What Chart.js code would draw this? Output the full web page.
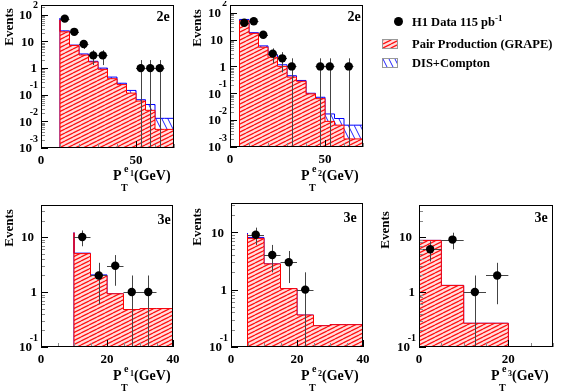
<!DOCTYPE html>
<html>
<head>
<meta charset="utf-8">
<script src="https://cdn.jsdelivr.net/npm/chart.js@4.4.1/dist/chart.umd.min.js"></script>
<style>
  body { margin:0; width:561px; height:391px; background:#fff; position:relative; overflow:hidden;
         font-family:"Liberation Serif","Times New Roman",serif; font-weight:bold; color:#000; }
  canvas.pn { position:absolute; }
  .ev { position:absolute; font-size:13px; line-height:1; white-space:nowrap; transform:translate(-50%,-50%) rotate(-90deg); }
  .tag { position:absolute; font-size:14px; line-height:1; transform:translate(-50%,-50%); }
  .xt { position:absolute; width:70px; height:26px; font-size:14px; line-height:1; }
  .xt span { position:absolute; white-space:nowrap; }
  .xt .p { left:0; top:0; }
  .xt .t { left:8px; top:14px; font-size:10px; }
  .xt .e { left:11px; top:-5px; font-size:10px; }
  .xt .n { left:17px; top:1px; font-size:8px; }
  .xt .g { left:21px; top:0; }
  .lg { position:absolute; font-size:12.5px; line-height:1; white-space:nowrap; }
  .lg sup { font-size:9px; position:relative; top:-2px; vertical-align:top; }
  .dot { position:absolute; width:9px; height:9px; border-radius:50%; background:#000; }
  canvas.sw { position:absolute; border:1px solid #999; }
</style>
</head>
<body>
<canvas id="c1" class="pn"></canvas>
<canvas id="c2" class="pn"></canvas>
<canvas id="c4" class="pn"></canvas>
<canvas id="c5" class="pn"></canvas>
<canvas id="c6" class="pn"></canvas>

<div class="ev" style="left:8px;top:27px">Events</div>
<div class="ev" style="left:196px;top:28px">Events</div>
<div class="ev" style="left:8px;top:228px">Events</div>
<div class="ev" style="left:196px;top:227px">Events</div>
<div class="ev" style="left:384px;top:230px">Events</div>

<div class="tag" style="left:163px;top:17px">2e</div>
<div class="tag" style="left:354px;top:17px">2e</div>
<div class="tag" style="left:164px;top:220px">3e</div>
<div class="tag" style="left:350px;top:218px">3e</div>
<div class="tag" style="left:541px;top:218px">3e</div>

<div class="xt" style="left:113px;top:169px"><span class="p">P</span><span class="t">T</span><span class="e">e</span><span class="n">1</span><span class="g">(GeV)</span></div>
<div class="xt" style="left:301px;top:169px"><span class="p">P</span><span class="t">T</span><span class="e">e</span><span class="n">2</span><span class="g">(GeV)</span></div>
<div class="xt" style="left:113px;top:369px"><span class="p">P</span><span class="t">T</span><span class="e">e</span><span class="n">1</span><span class="g">(GeV)</span></div>
<div class="xt" style="left:301px;top:369px"><span class="p">P</span><span class="t">T</span><span class="e">e</span><span class="n">2</span><span class="g">(GeV)</span></div>
<div class="xt" style="left:491px;top:369px"><span class="p">P</span><span class="t">T</span><span class="e">e</span><span class="n">3</span><span class="g">(GeV)</span></div>

<div class="dot" style="left:394px;top:17px"></div>
<div class="lg" style="left:412px;top:16px">H1 Data 115 pb<sup>-1</sup></div>
<canvas id="swRed" class="sw" width="14" height="8" style="left:382px;top:39px"></canvas>
<div class="lg" style="left:412px;top:38px">Pair Production (GRAPE)</div>
<canvas id="swBlue" class="sw" width="14" height="8" style="left:382px;top:58px"></canvas>
<div class="lg" style="left:412px;top:57px">DIS+Compton</div>

<script>
// bin low edges (bin width 5 GeV), GRAPE and DIS+Compton expectations, data

// 2e, P_T e1
const bins_2e_1 = [10, 15, 20, 25, 30, 35, 40, 45, 50, 55, 60, 65]
const grape_2e_1 = [65, 23, 7.1, 3.1, 1.7, 0.9, 0.4, 0.24, 0.115, 0.058, 0.026, 0.005]
const dis_2e_1 = [10, 2, 0.2, 0.3, 0.1, 0.1, 0.06, 0.03, 0.03, 0.007, 0.017, 0.008]
const dx_2e_1 = [12.5, 17.5, 22.5, 27.5, 32.5, 52.5, 57.5, 62.5]
const dn_2e_1 = [72, 23, 8, 3, 3, 1, 1, 1]
const de_2e_1 = [8.5, 4.8, 2.8, 1.7, 1.7, 1, 1, 1]

// 2e, P_T e2
const bins_2e_2 = [5, 10, 15, 20, 25, 30, 35, 40, 45, 50, 55, 60, 65]
const grape_2e_2 = [40, 50, 17, 5.2, 2.2, 1.0, 0.4, 0.28, 0.095, 0.063, 0.009, 0.0065, 0.002]
const dis_2e_2 = [6, 6, 1, 0.6, 0.5, 0.15, 0.05, 0.02, 0.005, 0.008, 0.008, 0.005, 0.0045]
const dx_2e_2 = [7.5, 12.5, 17.5, 22.5, 27.5, 32.5, 47.5, 52.5, 62.5]
const dn_2e_2 = [42, 48, 15, 3, 2, 1, 1, 1, 1]
const de_2e_2 = [6.5, 6.9, 3.9, 1.7, 1.4, 1, 1, 1, 1]

// 3e, P_T e1
const bins_3e_1 = [10, 15, 20, 25, 30, 35]
const grape_3e_1 = [12, 5.0, 2.0, 0.93, 0.48, 0.5]
const dis_3e_1 = [0.1, 0.1, 0.05, 0, 0, 0]
const dx_3e_1 = [12.5, 17.5, 22.5, 27.5, 32.5]
const dn_3e_1 = [10, 2, 3, 1, 1]
const de_3e_1 = [3.2, 1.4, 1.7, 1, 1]

// 3e, P_T e2
const bins_3e_2 = [5, 10, 15, 20, 25, 30, 35]
const grape_3e_2 = [9.1, 7.8, 2.8, 1.04, 0.36, 0.235, 0.245]
const dis_3e_2 = [0.5, 0.3, 0, 0, 0, 0, 0]
const dx_3e_2 = [7.5, 12.5, 17.5, 22.5]
const dn_3e_2 = [9, 4, 3, 1]
const de_3e_2 = [3, 2, 1.7, 1]

// 3e, P_T e3
const bins_3e_3 = [0, 5, 10, 15]
const grape_3e_3 = [11.5, 8.7, 1.32, 0.27]
const dis_3e_3 = [0.5, 0, 0, 0]
const dx_3e_3 = [2.5, 7.5, 12.5, 17.5]
const dn_3e_3 = [6, 9, 1, 2]
const de_3e_3 = [2.4, 3, 1, 1.4]

// tick labels
const xticks_top = [0, 50]
const xticks_bot = [0, 20, 40]
const xticks_e3 = [0, 20]

const BINW = 5

const panels = [
  { id: "c1", L: 41, T: 5, W: 133, H: 143, xmax: 70, ymin: 1e-3, ymax: 230, xt: xticks_top, minor: 10,
    bins: bins_2e_1, grape: grape_2e_1, dis: dis_2e_1, dx: dx_2e_1, dn: dn_2e_1, de: de_2e_1 },
  { id: "c2", L: 230, T: 5, W: 133, H: 142, xmax: 70, ymin: 1e-3, ymax: 190, xt: xticks_top, minor: 10,
    bins: bins_2e_2, grape: grape_2e_2, dis: dis_2e_2, dx: dx_2e_2, dn: dn_2e_2, de: de_2e_2 },
  { id: "c4", L: 41, T: 205, W: 132, H: 142, xmax: 40, ymin: 0.1, ymax: 38, xt: xticks_bot, minor: 5,
    bins: bins_3e_1, grape: grape_3e_1, dis: dis_3e_1, dx: dx_3e_1, dn: dn_3e_1, de: de_3e_1 },
  { id: "c5", L: 231, T: 203, W: 132, H: 144, xmax: 40, ymin: 0.1, ymax: 32, xt: xticks_bot, minor: 5,
    bins: bins_3e_2, grape: grape_3e_2, dis: dis_3e_2, dx: dx_3e_2, dn: dn_3e_2, de: de_3e_2 },
  { id: "c6", L: 419, T: 205, W: 134, H: 142, xmax: 30, ymin: 0.1, ymax: 38, xt: xticks_e3, minor: 5,
    bins: bins_3e_3, grape: grape_3e_3, dis: dis_3e_3, dx: dx_3e_3, dn: dn_3e_3, de: de_3e_3 },
]

// hatch patterns
function redTile() {
  let c = document.createElement("canvas")
  c.width = 8; c.height = 4
  let g = c.getContext("2d")
  g.fillStyle = "#ffdede"; g.fillRect(0, 0, 8, 4)
  g.strokeStyle = "#ff1010"; g.lineWidth = 1.3
  for (let dy of [-4, 0, 4]) {
    g.beginPath(); g.moveTo(0, 4 + dy); g.lineTo(8, dy); g.stroke()
  }
  return c
}
function blueTile() {
  let c = document.createElement("canvas")
  c.width = 6; c.height = 12
  let g = c.getContext("2d")
  g.fillStyle = "#fff"; g.fillRect(0, 0, 6, 12)
  g.strokeStyle = "#2020ff"; g.lineWidth = 1
  for (let dx of [-6, 0, 6]) {
    g.beginPath(); g.moveTo(dx, 0); g.lineTo(dx + 6, 12); g.stroke()
  }
  return c
}
const rt = redTile(), bt = blueTile()

for (let [id, tile] of [["swRed", rt], ["swBlue", bt]]) {
  let g = document.getElementById(id).getContext("2d")
  g.fillStyle = g.createPattern(tile, "repeat")
  g.fillRect(0, 0, 14, 8)
}

function histPoints(lo, vals) {
  let pts = [{ x: lo[0], y: 1e-9 }]
  vals.forEach((v, i) => pts.push({ x: lo[i], y: v > 0 ? v : 1e-9 }))
  let end = lo[lo.length - 1] + BINW
  pts.push({ x: end, y: vals[vals.length - 1] })
  pts.push({ x: end, y: 1e-9 })
  return pts
}

// frame, inside ticks and log labels
const framePlugin = {
  id: "frame",
  afterDraw(chart) {
    const { ctx, chartArea: a } = chart
    const x = chart.scales.x, y = chart.scales.y
    const p = chart.options.plugins.frame
    ctx.save()
    ctx.lineWidth = 1
    // y ticks
    let k0 = Math.floor(Math.log10(y.min) + 1e-9), k1 = Math.floor(Math.log10(y.max))
    for (let k = k0; k <= k1; k++) {
      for (let m = 1; m <= 9; m++) {
        let v = m * Math.pow(10, k)
        if (v < y.min * 0.999 || v > y.max) continue
        let py = Math.round(y.getPixelForValue(v)) + 0.5
        ctx.strokeStyle = m == 1 ? "#000" : "#888"
        ctx.beginPath(); ctx.moveTo(a.left, py); ctx.lineTo(a.left + (m == 1 ? 7 : 4), py); ctx.stroke()
      }
    }
    // x ticks
    for (let v = 0; v <= x.max; v += p.minor) {
      let px = Math.round(x.getPixelForValue(v)) + 0.5
      let major = p.xt.includes(v)
      ctx.strokeStyle = major ? "#000" : "#888"
      ctx.beginPath(); ctx.moveTo(px, a.bottom); ctx.lineTo(px, a.bottom - (major ? 7 : 4)); ctx.stroke()
    }
    // y labels
    ctx.fillStyle = "#000"
    ctx.textBaseline = "middle"
    for (let k = Math.ceil(Math.log10(y.min) - 1e-9); k <= k1; k++) {
      let py = y.getPixelForValue(Math.pow(10, k))
      ctx.textAlign = "right"
      ctx.font = "bold 13px 'Liberation Serif', serif"
      if (k == 0) {
        ctx.fillText("1", a.left - 4, py + 1)
      } else if (k == 1) {
        ctx.fillText("10", a.left - 7, py + 1)
      } else {
        ctx.fillText("10", a.left - 9, py + 1)
        ctx.font = "bold 10px 'Liberation Serif', serif"
        ctx.fillText(String(k), a.left - 3, py - 9)
      }
    }
    // frame
    ctx.strokeStyle = "#000"
    ctx.strokeRect(Math.round(a.left) + 0.5, Math.round(a.top) + 0.5,
      Math.round(a.right - a.left) - 1, Math.round(a.bottom - a.top) - 1)
    ctx.restore()
  },
}

// error bars under the data markers
const errPlugin = {
  id: "errbars",
  beforeDatasetDraw(chart, args) {
    if (args.index !== 0) return
    const ds = chart.data.datasets[0]
    const { ctx, chartArea: a } = chart
    const x = chart.scales.x, y = chart.scales.y
    ctx.save()
    ctx.beginPath(); ctx.rect(a.left, a.top, a.right - a.left, a.bottom - a.top); ctx.clip()
    ctx.strokeStyle = "#444"; ctx.lineWidth = 1
    ds.data.forEach((pt, i) => {
      let e = ds.err[i]
      let px = Math.round(x.getPixelForValue(pt.x)) + 0.5
      let top = y.getPixelForValue(pt.y + e)
      let bot = pt.y - e > y.min ? y.getPixelForValue(pt.y - e) : a.bottom
      ctx.beginPath(); ctx.moveTo(px, top); ctx.lineTo(px, bot); ctx.stroke()
      let py = Math.round(y.getPixelForValue(pt.y)) + 0.5
      ctx.beginPath()
      ctx.moveTo(x.getPixelForValue(pt.x - BINW / 2), py)
      ctx.lineTo(x.getPixelForValue(pt.x + BINW / 2), py)
      ctx.stroke()
    })
    ctx.restore()
  },
}

const YW = 40, XH = 26, PT = 4, PR = 12

panels.forEach((p) => {
  const cv = document.getElementById(p.id)
  cv.width = YW + p.W + PR
  cv.height = PT + p.H + XH
  cv.style.left = (p.L - YW) + "px"
  cv.style.top = (p.T - PT) + "px"
  const g = cv.getContext("2d")
  const total = p.grape.map((v, i) => v + p.dis[i])

  new Chart(cv, {
    type: "line",
    data: {
      datasets: [
        {
          label: "H1 Data",
          data: p.dx.map((v, i) => ({ x: v, y: p.dn[i] })),
          err: p.de,
          showLine: false,
          pointRadius: 4.2,
          pointBackgroundColor: "#000",
          pointBorderColor: "#000",
          pointBorderWidth: 0,
          clip: 0,
        },
        {
          label: "Pair Production (GRAPE)",
          data: histPoints(p.bins, p.grape),
          stepped: "after",
          fill: "start",
          borderColor: "#ff0000",
          borderWidth: 1,
          backgroundColor: g.createPattern(rt, "repeat"),
          pointRadius: 0,
          clip: 0,
        },
        {
          label: "DIS+Compton",
          data: histPoints(p.bins, total),
          stepped: "after",
          fill: "start",
          borderColor: "#0000ff",
          borderWidth: 1,
          backgroundColor: g.createPattern(bt, "repeat"),
          pointRadius: 0,
          clip: 0,
        },
      ],
    },
    options: {
      responsive: false,
      animation: false,
      devicePixelRatio: 1,
      layout: { padding: { left: 0, top: PT, right: PR, bottom: 0 } },
      plugins: {
        legend: { display: false },
        tooltip: { enabled: false },
        frame: { xt: p.xt, minor: p.minor },
      },
      scales: {
        x: {
          type: "linear",
          min: 0,
          max: p.xmax,
          grid: { display: false, drawTicks: false },
          border: { display: false },
          ticks: {
            color: "#000",
            padding: 5,
            autoSkip: false,
            maxRotation: 0,
            font: { family: "'Liberation Serif', serif", size: 13, weight: "bold" },
          },
          afterBuildTicks: (s) => { s.ticks = p.xt.map((v) => ({ value: v })) },
          afterFit: (s) => { s.height = XH; s.paddingLeft = 0; s.paddingRight = 0 },
        },
        y: {
          type: "logarithmic",
          min: p.ymin,
          max: p.ymax,
          grid: { display: false },
          border: { display: false },
          ticks: { display: false },
          afterFit: (s) => { s.width = YW; s.paddingTop = 0; s.paddingBottom = 0 },
        },
      },
    },
    plugins: [framePlugin, errPlugin],
  })
})
</script>
</body>
</html>
